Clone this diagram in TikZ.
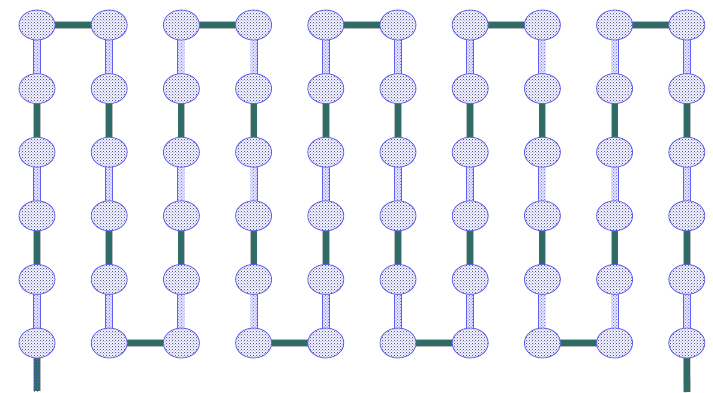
\documentclass[tikz,border=0pt]{standalone}
\usetikzlibrary{shapes.geometric,patterns,calc}
\definecolor{barteal}{RGB}{46,108,104}
\definecolor{ballblue}{RGB}{95,95,240}
\pgfdeclarelayer{background}
\pgfsetlayers{background,main}
\begin{document}
\begin{tikzpicture}[x=1pt,y=-1pt,
 ball/.style={ellipse, minimum width=36pt, minimum height=30pt, inner sep=0pt,
   draw=ballblue, line width=0.8pt, preaction={fill=blue!4},
   pattern=crosshatch dots, pattern color=ballblue!55!black},
 tealbar/.style={draw=gray!55, line width=0.8pt, double=barteal, double distance=6pt},
 dotlink/.style={draw=ballblue, line width=0.8pt, double=blue!10, double distance=6.5pt},
 dotfill/.style={pattern=crosshatch dots, pattern color=ballblue},
]
\useasboundingbox (0,0) rectangle (713,393);
\foreach \i in {1,...,10}{
  \foreach \j in {1,...,6}{
    \node[ball] (n-\i-\j) at ({37+72.2*(\i-1)},{25+63.6*(\j-1)}) {};
  }
}
\coordinate (s1) at (37,391);
\coordinate (s10) at (687,392);
\begin{pgfonlayer}{background}
\fill[white] (0,0) rectangle (713,393);
% dotted links inside each column
\foreach \i in {1,...,10}{
  \foreach \a/\b in {1/2,3/4,5/6}{
    \draw[dotlink] (n-\i-\a.center) -- (n-\i-\b.center);
    \fill[dotfill] ($(n-\i-\a.center)+(-3,0)$) rectangle ($(n-\i-\b.center)+(3,0)$);
  }
  \foreach \a/\b in {2/3,4/5}{
    \draw[tealbar] (n-\i-\a.center) -- (n-\i-\b.center);
  }
}
% top links
\foreach \a/\b in {1/2,3/4,5/6,7/8,9/10}{
  \draw[tealbar] (n-\a-1.center) -- (n-\b-1.center);
}
% bottom links
\foreach \a/\b in {2/3,4/5,6/7,8/9}{
  \draw[tealbar] (n-\a-6.center) -- (n-\b-6.center);
}
% stubs
\draw[tealbar] (n-1-6.center) -- (s1);
\fill[dotfill] ($(n-1-6.center)+(-3,0)$) rectangle ($(s1)+(3,0)$);
\draw[tealbar] (n-10-6.center) -- (s10);
\end{pgfonlayer}
\end{tikzpicture}
\end{document}
